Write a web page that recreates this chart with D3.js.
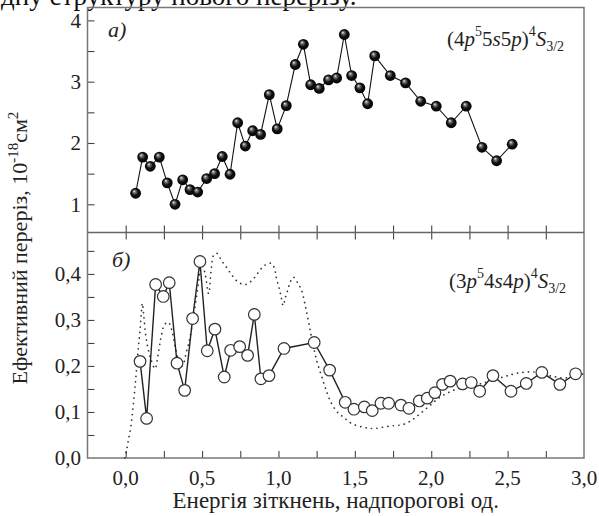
<!DOCTYPE html>
<html><head><meta charset="utf-8">
<script src="https://cdn.jsdelivr.net/npm/d3@7"></script>
<style>
html,body{margin:0;padding:0;background:#fff;}
svg{display:block;font-family:"Liberation Serif","Times New Roman",serif;}
</style></head>
<body>
<svg id="c" width="599" height="516"></svg>
<script>
// ---- data ----
const topX = [0.065,0.111,0.161,0.220,0.272,0.323,0.373,0.421,0.471,0.530,0.582,0.632,0.683,0.733,0.783,0.831,0.883,0.940,0.992,1.051,1.110,1.163,1.211,1.267,1.328,1.381,1.431,1.479,1.533,1.584,1.630,1.732,1.832,1.931,2.033,2.131,2.229,2.332,2.428,2.530];
const topY = [1.18,1.77,1.62,1.77,1.35,1.00,1.40,1.24,1.20,1.42,1.50,1.78,1.49,2.33,1.95,2.20,2.14,2.79,2.23,2.61,3.28,3.61,2.95,2.89,3.03,3.06,3.77,3.10,2.90,2.64,3.42,3.10,2.98,2.68,2.60,2.33,2.60,1.93,1.71,1.98];
const botX = [0.094,0.137,0.196,0.246,0.285,0.336,0.386,0.438,0.486,0.534,0.584,0.645,0.687,0.746,0.798,0.842,0.885,0.938,1.036,1.234,1.335,1.437,1.494,1.562,1.614,1.671,1.721,1.802,1.854,1.922,1.974,2.024,2.074,2.124,2.205,2.262,2.317,2.404,2.522,2.622,2.724,2.842,2.945];
const botY = [0.210,0.086,0.377,0.351,0.381,0.206,0.147,0.303,0.427,0.233,0.280,0.176,0.234,0.242,0.223,0.312,0.172,0.179,0.238,0.251,0.191,0.121,0.106,0.111,0.103,0.119,0.119,0.115,0.108,0.124,0.130,0.142,0.160,0.167,0.161,0.164,0.145,0.179,0.145,0.162,0.186,0.160,0.183];
const theoX = [-0.005,0.006,0.017,0.033,0.046,0.057,0.065,0.074,0.083,0.094,0.103,0.109,0.118,0.130,0.145,0.165,0.192,0.210,0.230,0.255,0.279,0.300,0.325,0.350,0.370,0.400,0.421,0.454,0.480,0.497,0.520,0.543,0.560,0.575,0.595,0.628,0.661,0.694,0.737,0.787,0.835,0.868,0.907,0.955,0.977,0.988,1.003,1.016,1.031,1.043,1.060,1.075,1.097,1.130,1.152,1.173,1.195,1.217,1.250,1.290,1.320,1.348,1.385,1.424,1.479,1.555,1.620,1.719,1.817,1.872,1.926,1.991,2.057,2.144,2.210,2.319,2.471,2.559,2.668,2.799,2.886,2.995];
const theoY = [0.000,0.017,0.038,0.067,0.103,0.140,0.169,0.205,0.241,0.277,0.318,0.336,0.310,0.270,0.240,0.215,0.194,0.220,0.260,0.290,0.295,0.280,0.240,0.210,0.200,0.234,0.262,0.328,0.390,0.425,0.400,0.357,0.410,0.440,0.445,0.429,0.414,0.398,0.382,0.377,0.389,0.403,0.418,0.423,0.407,0.389,0.371,0.353,0.331,0.346,0.364,0.380,0.393,0.378,0.364,0.335,0.299,0.262,0.212,0.170,0.140,0.118,0.100,0.089,0.075,0.067,0.064,0.069,0.073,0.082,0.096,0.114,0.132,0.147,0.154,0.161,0.176,0.184,0.187,0.177,0.174,0.183];
const xTicks = [0, 0.5, 1.0, 1.5, 2.0, 2.5, 3.0];
const xTickLabels = ["0,0","0,5","1,0","1,5","2,0","2,5","3,0"];
const topTicks = [1, 2, 3, 4];
const topTickLabels = ["1","2","3","4"];
const botTicks = [0, 0.1, 0.2, 0.3, 0.4];
const botTickLabels = ["0,0","0,1","0,2","0,3","0,4"];

// ---- layout ----
const L = 87.5, R = 584, T = 7.5, M = 232.5, B = 458;
const svg = d3.select("#c");
const x = d3.scaleLinear().domain([-0.25, 3.0]).range([L, R]);
const yT = d3.scaleLinear().domain([0.54, 4.21]).range([M, T]);
const yB = d3.scaleLinear().domain([0, 0.49]).range([B, M]);

// clipped paragraph text above (as in the source page crop)
svg.append("text").attr("x", 1).attr("y", 5).attr("text-anchor","start")
  .attr("font-size", 27).attr("fill","#111").text("дну структуру нового перерізу.");

// gradient for spheres
const defs = svg.append("defs");
const g = defs.append("radialGradient").attr("id","ball").attr("cx","50%").attr("cy","50%").attr("r","55%").attr("fx","35%").attr("fy","30%");
g.append("stop").attr("offset","0%").attr("stop-color","#f4f4f4");
g.append("stop").attr("offset","22%").attr("stop-color","#777");
g.append("stop").attr("offset","55%").attr("stop-color","#111");
g.append("stop").attr("offset","100%").attr("stop-color","#000");

// ticks via axes
const tickLen = 7;
function styleAxis(sel){ sel.select(".domain").remove(); sel.selectAll("line").attr("stroke","#444").attr("stroke-width",1.1); sel.selectAll("text").remove(); }
svg.append("g").attr("transform",`translate(${L},0)`)
  .call(d3.axisRight(yT).tickValues(d3.range(1,4.01,0.5)).tickSize(tickLen)).call(styleAxis);
svg.append("g").attr("transform",`translate(${L},0)`)
  .call(d3.axisRight(yB).tickValues(d3.range(0.05,0.451,0.05)).tickSize(tickLen)).call(styleAxis);
const xMinor = d3.range(0, 2.76, 0.25);
svg.append("g").attr("transform",`translate(0,${B})`).call(d3.axisTop(x).tickValues(xMinor).tickSize(tickLen)).call(styleAxis);
svg.append("g").attr("transform",`translate(0,${M})`).call(d3.axisBottom(x).tickValues(xMinor).tickSize(tickLen)).call(styleAxis);
svg.append("g").attr("transform",`translate(0,${M})`).call(d3.axisTop(x).tickValues(xMinor).tickSize(tickLen)).call(styleAxis);

// frames
svg.append("rect").attr("x",L).attr("y",T).attr("width",R-L).attr("height",B-T).attr("fill","none").attr("stroke","#777").attr("stroke-width",1.5);
svg.append("line").attr("x1",L).attr("x2",R).attr("y1",M).attr("y2",M).attr("stroke","#666").attr("stroke-width",1.5);

// tick labels
const fs = 21;
svg.append("g").selectAll("text").data(topTicks).join("text")
  .attr("x", 81).attr("y", d=>yT(d)).attr("dy","0.35em").attr("text-anchor","end").attr("font-size",fs).attr("fill","#222")
  .text((d,i)=>topTickLabels[i]);
svg.append("g").selectAll("text").data(botTicks).join("text")
  .attr("x", 81).attr("y", d=>yB(d)).attr("dy","0.35em").attr("text-anchor","end").attr("font-size",fs).attr("fill","#222")
  .text((d,i)=>botTickLabels[i]);
svg.append("g").selectAll("text").data(xTicks).join("text")
  .attr("x", d=>x(d)).attr("y", 485).attr("text-anchor","middle").attr("font-size",fs).attr("fill","#222")
  .text((d,i)=>xTickLabels[i]);

// axis titles
svg.append("text").attr("x",(L+R)/2).attr("y",508).attr("text-anchor","middle").attr("font-size",23).attr("fill","#222")
  .text("Енергія зіткнень, надпорогові од.");
const yt = svg.append("text").attr("transform","translate(27,248) rotate(-90)").attr("text-anchor","middle").attr("font-size",22).attr("fill","#222");
yt.append("tspan").text("Ефективний переріз, 10");
yt.append("tspan").attr("font-size",15).attr("dy",-9).text("-18");
yt.append("tspan").attr("dy",9).text("см");
yt.append("tspan").attr("font-size",15).attr("dy",-9).text("2");

// panel labels
svg.append("text").attr("x",108).attr("y",37).attr("font-size",22).attr("font-style","italic").attr("fill","#222").text("а)");
svg.append("text").attr("x",112).attr("y",267).attr("font-size",22).attr("font-style","italic").attr("fill","#222").text("б)");

function term(xp, yp, parts){
  const t = svg.append("text").attr("x",xp).attr("y",yp).attr("font-size",21).attr("fill","#222");
  parts.forEach(p=>{
    const s = t.append("tspan").text(p.t);
    if(p.i) s.attr("font-style","italic");
    if(p.fs) s.attr("font-size",p.fs);
    if(p.dy) s.attr("dy",p.dy);
  });
}
term(447, 46, [{t:"(4"},{t:"p",i:1},{t:"5",fs:14,dy:-10},{t:"5",dy:10},{t:"s",i:1},{t:"5"},{t:"p",i:1},{t:")"},{t:"4",fs:14,dy:-10},{t:"S",i:1,dy:10},{t:"3/2",fs:14,dy:5}]);
term(449, 288, [{t:"(3"},{t:"p",i:1},{t:"5",fs:14,dy:-10},{t:"4",dy:10},{t:"s",i:1},{t:"4"},{t:"p",i:1},{t:")"},{t:"4",fs:14,dy:-10},{t:"S",i:1,dy:10},{t:"3/2",fs:14,dy:5}]);

// theory dotted curve (bottom)
const theoPts = theoX.map((d,i)=>[d, theoY[i]]);
svg.append("path").datum(theoPts)
  .attr("d", d3.line().x(d=>x(d[0])).y(d=>yB(d[1])).curve(d3.curveCatmullRom))
  .attr("fill","none").attr("stroke","#333").attr("stroke-width",1.7)
  .attr("stroke-dasharray","0.1,5.4").attr("stroke-linecap","round");

// bottom experimental
const botPts = botX.map((d,i)=>[d, botY[i]]);
svg.append("path").datum(botPts)
  .attr("d", d3.line().x(d=>x(d[0])).y(d=>yB(d[1])))
  .attr("fill","none").attr("stroke","#222").attr("stroke-width",1.4);
svg.append("g").selectAll("circle").data(botPts).join("circle")
  .attr("cx",d=>x(d[0])).attr("cy",d=>yB(d[1])).attr("r",5.8)
  .attr("fill","#fff").attr("stroke","#333").attr("stroke-width",1.2);

// top experimental
const topPts = topX.map((d,i)=>[d, topY[i]]);
svg.append("path").datum(topPts)
  .attr("d", d3.line().x(d=>x(d[0])).y(d=>yT(d[1])))
  .attr("fill","none").attr("stroke","#111").attr("stroke-width",1.1);
svg.append("g").selectAll("circle").data(topPts).join("circle")
  .attr("cx",d=>x(d[0])).attr("cy",d=>yT(d[1])).attr("r",5.4)
  .attr("fill","url(#ball)");
</script>
</body></html>
